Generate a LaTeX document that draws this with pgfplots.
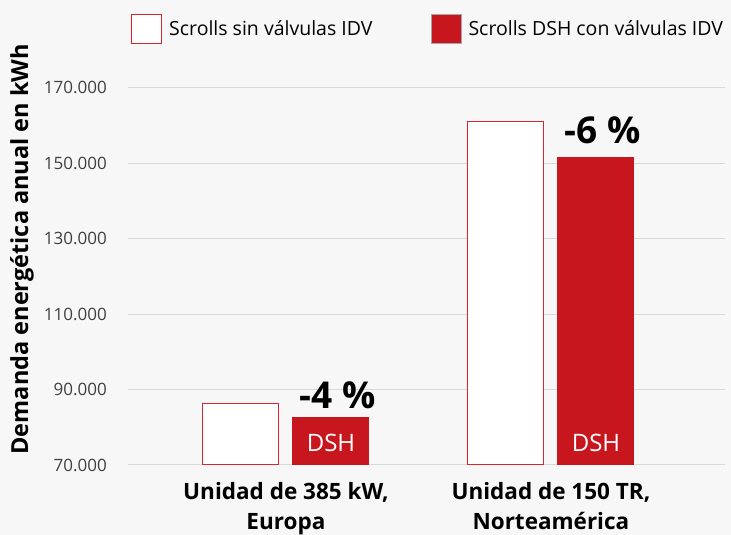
\documentclass[border=0pt]{standalone}
\usepackage{pgfplots}
\pgfplotsset{compat=1.18}
\usepackage{fontspec}
\setmainfont{Open Sans}
\definecolor{dshred}{HTML}{C8161E}
\definecolor{edgered}{HTML}{D9262E}
\definecolor{bgc}{HTML}{F7F7F7}
\definecolor{gridc}{HTML}{D9D9D9}
\definecolor{tickc}{HTML}{404040}
\begin{document}
\begin{tikzpicture}[x=1pt,y=1pt]
\fill[bgc] (0,0) rectangle (731,535);
\begin{axis}[
  at={(128pt,70pt)}, anchor=south west,
  scale only axis, width=597pt, height=396pt,
  xmin=-0.596, xmax=1.657, ymin=70000, ymax=175000,
  ybar=14pt, bar width=76pt,
  axis line style={draw=none},
  ytick={70000,90000,110000,130000,150000,170000},
  ymajorgrids, grid style={gridc, line width=1pt},
  major tick length=0pt,
  xtick={0,1},
  xticklabels={{Unidad de 385 kW,\\Europa},{Unidad de 150 TR,\\Norteamérica}},
  xticklabel style={font=\bfseries\fontsize{22.5}{30}\selectfont, align=center, inner sep=0pt, yshift=-17pt, text=black},
  scaled y ticks=false,
  /pgf/number format/assume math mode=true,
  yticklabel style={font=\fontsize{17}{20}\selectfont, text=tickc, inner sep=0pt, xshift=-21pt,
    /pgf/number format/.cd, fixed, precision=0, 1000 sep={.}},
  ylabel={Demanda energética anual en kWh},
  ylabel style={font=\bfseries\fontsize{23.5}{26}\selectfont, at={(axis description cs:-0.1776,0.545)}, anchor=center},
  legend style={at={(axis description cs:0,1.101)}, anchor=west, draw=none, fill=none,
    font=\fontsize{19.5}{22}\selectfont, legend columns=2,
    /tikz/every odd column/.append style={column sep=5pt},
    /tikz/every even column/.append style={column sep=56pt}},
  legend image code/.code={\draw[#1] (0pt,-14.5pt) rectangle (30pt,14.5pt);},
]
\addplot[fill=white, draw=edgered, line width=1pt] coordinates {(0,86200) (1,161000)};
\addlegendentry{Scrolls sin válvulas IDV}
\addplot[fill=dshred, draw=dshred, line width=1pt, legend image post style={draw=gray!70}] coordinates {(0,82500) (1,151500)};
\addlegendentry{Scrolls DSH con válvulas IDV}
\node[font=\bfseries\fontsize{37}{37}\selectfont] at (axis cs:0.196,88600) {-4 \%};
\node[font=\bfseries\fontsize{37}{37}\selectfont] at (axis cs:1.196,158700) {-6 \%};
\node[text=white, font=\fontsize{24}{24}\selectfont] at (axis cs:0.17,75840) {DSH};
\node[text=white, font=\fontsize{24}{24}\selectfont] at (axis cs:1.17,75840) {DSH};
\end{axis}
\end{tikzpicture}
\end{document}
